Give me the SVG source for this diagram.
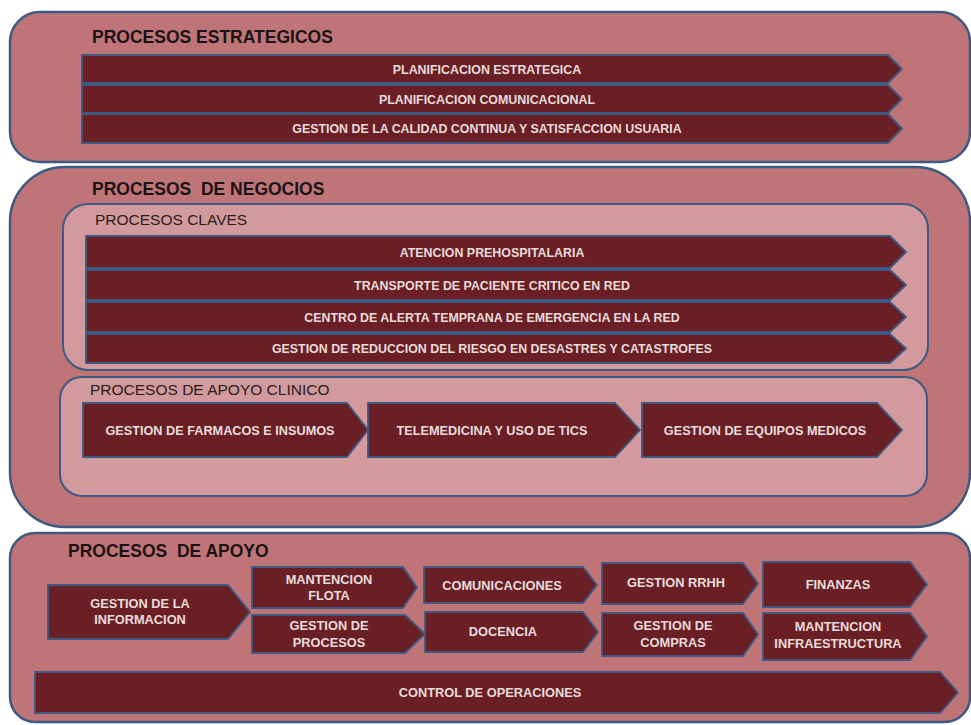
<svg xmlns="http://www.w3.org/2000/svg" width="971" height="725" viewBox="0 0 971 725">
<style>
.outer{fill:#bf7577;stroke:#3e5a82;stroke-width:2.5}
.inner{fill:#d39a9d;stroke:#3e5a82;stroke-width:2}
.bar{fill:#6a1f25;stroke:#3e5a82;stroke-width:1.8}
.h1{font-family:"Liberation Sans",Arial,sans-serif;font-weight:bold;font-size:17.5px;fill:#1a1214}
.h2{font-family:"Liberation Sans",Arial,sans-serif;font-size:15.5px;fill:#2a1a1c}
.t{font-family:"Liberation Sans",Arial,sans-serif;font-weight:bold;font-size:12.4px;fill:#e8dcdc;text-anchor:middle}
.tc{font-family:"Liberation Sans",Arial,sans-serif;font-weight:bold;font-size:12.7px;fill:#e8dcdc;text-anchor:middle}
.t2{font-family:"Liberation Sans",Arial,sans-serif;font-weight:bold;font-size:12.8px;fill:#e8dcdc;text-anchor:middle}
</style>
<rect width="971" height="725" fill="#ffffff"/>
<g id="estrategicos">
<rect class="outer" x="10" y="12" width="960" height="150" rx="30"/>
<text class="h1" x="92" y="43">PROCESOS ESTRATEGICOS</text>
<g id="planificacion-estrategica"><polygon class="bar" points="82,55 888,55 902,69 888,83 82,83"/><text class="t" x="487" y="74">PLANIFICACION ESTRATEGICA</text></g>
<g id="planificacion-comunicacional"><polygon class="bar" points="82,85 888,85 902,99 888,113 82,113"/><text class="t" x="487" y="104">PLANIFICACION COMUNICACIONAL</text></g>
<g id="gestion-calidad"><polygon class="bar" points="82,114 888,114 902,128.5 888,143 82,143"/><text class="t" x="487" y="133">GESTION DE LA CALIDAD CONTINUA Y SATISFACCION USUARIA</text></g>
</g>
<g id="negocios">
<rect class="outer" x="10" y="167" width="960" height="360" rx="55"/>
<text class="h1" x="92" y="195" xml:space="preserve">PROCESOS  DE NEGOCIOS</text>
<g id="claves">
<rect class="inner" x="63" y="204" width="865" height="166" rx="25"/>
<text class="h2" x="95" y="225">PROCESOS CLAVES</text>
<g id="atencion"><polygon class="bar" points="86,236 890,236 906,252 890,268 86,268"/><text class="t" x="492" y="256.5">ATENCION PREHOSPITALARIA</text></g>
<g id="transporte"><polygon class="bar" points="86,270 890,270 906,285 890,300 86,300"/><text class="t" x="492" y="289.5">TRANSPORTE DE PACIENTE CRITICO EN RED</text></g>
<g id="centro-alerta"><polygon class="bar" points="86,302 890,302 906,317 890,332 86,332"/><text class="t" x="492" y="321.5">CENTRO DE ALERTA TEMPRANA DE EMERGENCIA EN LA RED</text></g>
<g id="gestion-riesgo"><polygon class="bar" points="86,334 890,334 906,348.5 890,363 86,363"/><text class="t" x="492" y="353">GESTION DE REDUCCION DEL RIESGO EN DESASTRES Y CATASTROFES</text></g>
</g>
<g id="apoyo-clinico">
<rect class="inner" x="60" y="377" width="867" height="119" rx="22"/>
<text class="h2" x="90" y="395">PROCESOS DE APOYO CLINICO</text>
<g id="farmacos"><polygon class="bar" points="83,403 347,403 368,430 347,457 83,457"/><text class="tc" x="220" y="434.5">GESTION DE FARMACOS E INSUMOS</text></g>
<g id="telemedicina"><polygon class="bar" points="368,403 615,403 640,430 615,457 368,457"/><text class="tc" x="492" y="434.5">TELEMEDICINA Y USO DE TICS</text></g>
<g id="equipos"><polygon class="bar" points="642,403 877,403 902,430 877,457 642,457"/><text class="tc" x="765" y="434.5">GESTION DE EQUIPOS MEDICOS</text></g>
</g>
</g>
<g id="apoyo">
<rect class="outer" x="10" y="533" width="960" height="189" rx="25"/>
<text class="h1" x="68" y="557" xml:space="preserve">PROCESOS  DE APOYO</text>
<g id="gestion-informacion"><polygon class="bar" points="48,585 228,585 250,612 228,639 48,639"/><text class="t2" x="140" y="608">GESTION DE LA</text><text class="t2" x="140" y="624">INFORMACION</text></g>
<g id="mantencion-flota"><polygon class="bar" points="252,567 403,567 417,587.5 403,608 252,608"/><text class="t2" x="329" y="584">MANTENCION</text><text class="t2" x="329" y="600">FLOTA</text></g>
<g id="gestion-procesos"><polygon class="bar" points="252,615 405,615 425,634 405,653 252,653"/><text class="t2" x="329" y="630">GESTION DE</text><text class="t2" x="329" y="647">PROCESOS</text></g>
<g id="comunicaciones"><polygon class="bar" points="424,567 583,567 597,585 583,603 424,603"/><text class="t2" x="502" y="590">COMUNICACIONES</text></g>
<g id="docencia"><polygon class="bar" points="425,612 583,612 598,632 583,652 425,652"/><text class="t2" x="503" y="636">DOCENCIA</text></g>
<g id="gestion-rrhh"><polygon class="bar" points="602,563 743,563 758,583.5 743,604 602,604"/><text class="t2" x="676" y="587">GESTION RRHH</text></g>
<g id="gestion-compras"><polygon class="bar" points="602,613 743,613 758,634.5 743,656 602,656"/><text class="t2" x="673" y="630">GESTION DE</text><text class="t2" x="673" y="647">COMPRAS</text></g>
<g id="finanzas"><polygon class="bar" points="763,562 910,562 927,584.5 910,607 763,607"/><text class="t2" x="838" y="589">FINANZAS</text></g>
<g id="mantencion-infra"><polygon class="bar" points="763,613 910,613 927,636.5 910,660 763,660"/><text class="t2" x="838" y="631">MANTENCION</text><text class="t2" x="838" y="648">INFRAESTRUCTURA</text></g>
<g id="control-operaciones"><polygon class="bar" points="35,672 940,672 958,692.5 940,713 35,713"/><text class="t2" x="490" y="697">CONTROL DE OPERACIONES</text></g>
</g>
<g id="connectors"/>
</svg>
